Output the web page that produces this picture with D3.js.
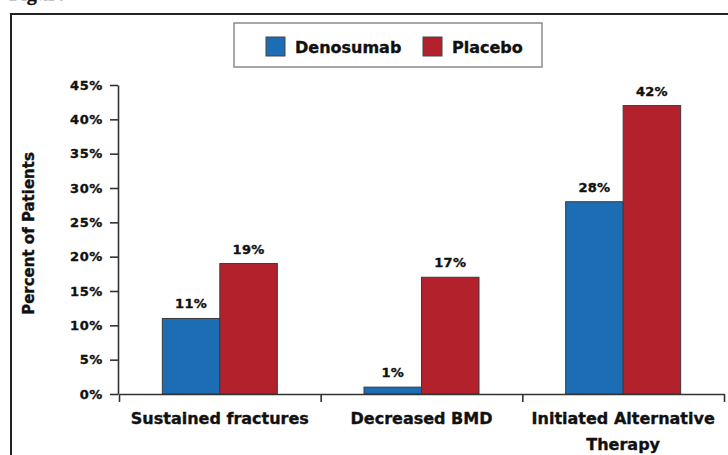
<!DOCTYPE html>
<html><head><meta charset="utf-8">
<script src="https://cdn.jsdelivr.net/npm/d3@7"></script>
<style>
body{margin:0;background:#fff}
svg{display:block}
text{font-family:"DejaVu Sans",sans-serif;font-weight:bold;fill:#111;stroke:#111;stroke-width:0.35px}
</style>
</head><body>
<svg id="chart" width="728" height="455"></svg>
<script>
const categories = ["Sustained fractures", "Decreased BMD", "Initiated Alternative Therapy"];
const seriesNames = ["Denosumab", "Placebo"];
const denosumab = [11, 1, 28];
const placebo = [19, 17, 42];
const yTicks = [0, 5, 10, 15, 20, 25, 30, 35, 40, 45];
const colors = ["#1c6db3", "#b3212d"];
const yTitle = "Percent of Patients";
const caption = "Figure";

const seriesValues = [denosumab, placebo];
const rows = categories.map((c, i) => ({cat: c, vals: seriesNames.map((s, j) => ({s, j, v: seriesValues[j][i]}))}));

const svg = d3.select("#chart");
const mLeft = 118, mRight = 724, mTop = 85, mBottom = 394;

// caption remnant and outer frame
svg.append("text").attr("x", 9).attr("y", 0)
  .style("font-family", "'Liberation Serif',serif").style("font-size", "20px").text(caption);
svg.append("rect").attr("x", 11).attr("y", 14).attr("width", 800).attr("height", 500)
  .attr("fill", "none").attr("stroke", "#222").attr("stroke-width", 2);

const x0 = d3.scaleBand().domain(categories).range([mLeft + 1, mRight]).padding(0);
const x1 = d3.scaleBand().domain(seriesNames)
  .range([(x0.bandwidth() - 115) / 2, (x0.bandwidth() + 115) / 2]);
const y = d3.scaleLinear().domain([0, 45]).range([mBottom, mTop]);

// bars
const g = svg.append("g");
const grp = g.selectAll("g.grp").data(rows).join("g").attr("class", "grp")
  .attr("transform", d => `translate(${x0(d.cat)},0)`);
grp.selectAll("rect").data(d => d.vals).join("rect")
  .attr("x", d => x1(d.s)).attr("width", x1.bandwidth())
  .attr("y", d => y(d.v)).attr("height", d => y(0) - y(d.v))
  .attr("fill", d => colors[d.j]).attr("stroke", "#3a3a3a").attr("stroke-width", 1);
grp.selectAll("text.val").data(d => d.vals).join("text").attr("class", "val")
  .attr("x", d => x1(d.s) + x1.bandwidth() / 2).attr("y", d => y(d.v) - 10)
  .attr("text-anchor", "middle").style("font-size", "13px").style("letter-spacing", "0.3px")
  .text(d => d.v + "%");

// y axis
const yAxis = svg.append("g").attr("transform", `translate(${mLeft},0)`)
  .call(d3.axisLeft(y).tickValues(yTicks).tickSize(8).tickSizeOuter(0).tickPadding(7).tickFormat(d => d + "%"));
yAxis.selectAll("path,line").attr("stroke", "#333").attr("stroke-width", 1.6);
yAxis.selectAll("text").style("font-size", "13px").style("letter-spacing", "0.6px")
  .style("font-family", "'DejaVu Sans',sans-serif").attr("fill", "#111");

// x axis: boundary ticks
const xb = d3.scaleLinear().domain([0, categories.length]).range([mLeft + 1, mRight]);
const xTicksAxis = svg.append("g").attr("transform", `translate(0,${mBottom})`)
  .call(d3.axisBottom(xb).tickValues(d3.range(categories.length + 1)).tickSize(8).tickSizeOuter(0).tickFormat(""));
xTicksAxis.selectAll("path,line").attr("stroke", "#333").attr("stroke-width", 1.6);

// x axis: category labels
const xAxis = svg.append("g").attr("transform", `translate(0,${mBottom})`)
  .call(d3.axisBottom(x0).tickSize(0).tickPadding(19));
xAxis.select(".domain").remove();
xAxis.selectAll("text").style("font-size", "16px")
  .style("font-family", "'DejaVu Sans',sans-serif").attr("fill", "#111")
  .each(function() {
    const t = d3.select(this);
    const words = t.text().split(" ");
    const maxW = x0.bandwidth() - 8;
    const lines = [];
    let cur = [];
    t.text(null);
    const probe = t.append("tspan");
    words.forEach(w => {
      const test = cur.concat([w]).join(" ");
      probe.text(test);
      if (probe.node().getComputedTextLength() > maxW && cur.length) {
        lines.push(cur.join(" ")); cur = [w];
      } else cur.push(w);
    });
    lines.push(cur.join(" "));
    probe.remove();
    const yy = t.attr("y");
    t.attr("dy", null);
    lines.forEach((ln, i) => {
      t.append("tspan").attr("x", 0).attr("y", yy).attr("dy", (0.71 + i * 1.625) + "em").text(ln);
    });
  });

// y title
svg.append("text").attr("transform", "translate(34,233.5) rotate(-90)")
  .attr("text-anchor", "middle").style("font-size", "15px").text(yTitle);

// legend
const lg = svg.append("g");
lg.append("rect").attr("x", 234).attr("y", 23).attr("width", 308).attr("height", 44)
  .attr("fill", "#fff").attr("stroke", "#8a8a8a").attr("stroke-width", 1.5);
const li = lg.selectAll("g.li").data(seriesNames).join("g").attr("class", "li")
  .attr("transform", (d, i) => `translate(${266 + i * 157},37)`);
li.append("rect").attr("width", 19).attr("height", 19)
  .attr("fill", (d, i) => colors[i]).attr("stroke", "#444").attr("stroke-width", 1);
li.append("text").attr("x", 29).attr("y", 15.5).style("font-size", "16px").text(d => d);
</script>
</body></html>
